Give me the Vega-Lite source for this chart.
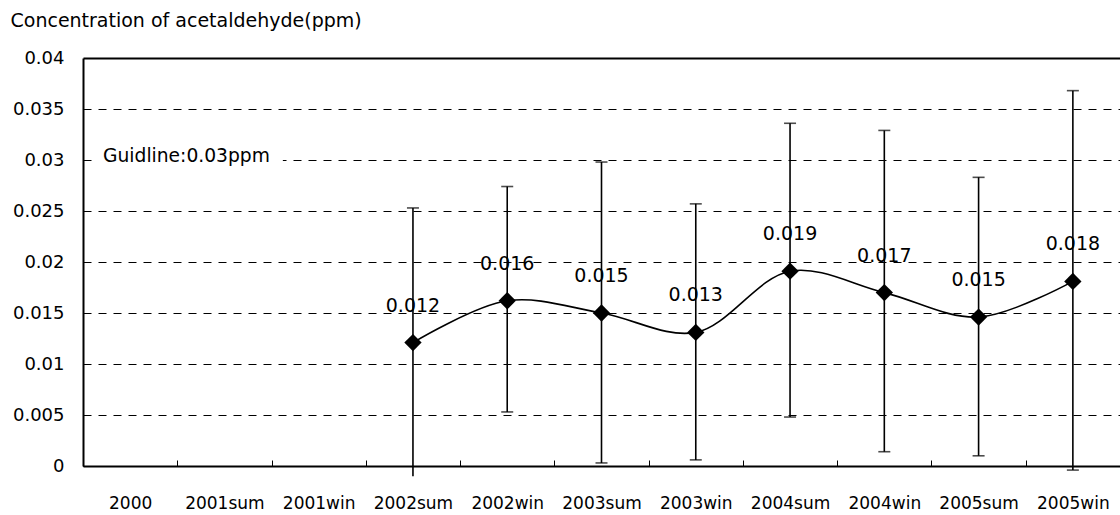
{
  "$schema": "https://vega.github.io/schema/vega-lite/v6.json",
  "width": 1037,
  "height": 408,
  "autosize": {"type": "none"},
  "padding": {"left": 83, "top": 58, "right": 0, "bottom": 49},
  "background": "white",
  "config": {
    "view": {"stroke": null},
    "font": "DejaVu Sans",
    "axis": {"labelFont": "DejaVu Sans", "titleFont": "DejaVu Sans", "labelColor": "#000", "titleColor": "#000"}
  },
  "data": {
    "values": [
      {"period": "2002sum", "mean": 0.0121, "lo": -0.001, "hi": 0.0253},
      {"period": "2002win", "mean": 0.0162, "lo": 0.0053, "hi": 0.0274},
      {"period": "2003sum", "mean": 0.0150, "lo": 0.0003, "hi": 0.0298},
      {"period": "2003win", "mean": 0.0131, "lo": 0.0006, "hi": 0.0257},
      {"period": "2004sum", "mean": 0.0191, "lo": 0.0048, "hi": 0.0336},
      {"period": "2004win", "mean": 0.0170, "lo": 0.0014, "hi": 0.0329},
      {"period": "2005sum", "mean": 0.0146, "lo": 0.0010, "hi": 0.0283},
      {"period": "2005win", "mean": 0.0181, "lo": -0.0004, "hi": 0.0368}
    ]
  },
  "encoding": {
    "x": {
      "field": "period",
      "type": "ordinal",
      "sort": null,
      "scale": {
        "domain": ["2000", "2001sum", "2001win", "2002sum", "2002win", "2003sum", "2003win", "2004sum", "2004win", "2005sum", "2005win"],
        "paddingInner": 0,
        "paddingOuter": 0
      },
      "axis": {
        "title": null,
        "labelAngle": 0,
        "labelFontSize": 17,
        "labelPadding": 35,
        "tickBand": "extent",
        "ticks": true,
        "tickSize": -6,
        "tickColor": "#000",
        "tickWidth": 1,
        "domainColor": "#000",
        "domainWidth": 2,
        "grid": false,
        "zindex": 1
      }
    }
  },
  "layer": [
    {
      "mark": {"type": "rule", "color": "#000", "strokeWidth": 1.6},
      "encoding": {
        "y": {
          "field": "lo",
          "type": "quantitative",
          "scale": {"domain": [0, 0.04], "nice": false, "zero": false, "clamp": false},
          "axis": {
            "values": [0, 0.005, 0.01, 0.015, 0.02, 0.025, 0.03, 0.035, 0.04],
            "format": "~g",
            "grid": true,
            "gridDash": {"condition": {"test": "datum.value >= 0.04", "value": []}, "value": [8, 7]},
            "gridWidth": {"condition": {"test": "datum.value >= 0.04", "value": 2}, "value": 1},
            "gridColor": "#000",
            "ticks": false,
            "domainColor": "#000",
            "domainWidth": 2,
            "labelFontSize": 18,
            "labelPadding": 19,
            "title": "Concentration of acetaldehyde(ppm)",
            "titleAngle": 0,
            "titleAlign": "left",
            "titleBaseline": "middle",
            "titleX": -73,
            "titleY": -38,
            "titleFontSize": 19,
            "titleFontWeight": "normal"
          }
        },
        "y2": {"field": "hi"}
      }
    },
    {
      "mark": {"type": "rect", "color": "white", "opacity": 1},
      "data": {"values": [{}]},
      "encoding": {
        "x": {"datum": "2000", "bandPosition": 0.1},
        "x2": {"datum": "2001win", "bandPosition": 0.12},
        "y": {"datum": 0.029, "type": "quantitative"},
        "y2": {"datum": 0.0315}
      }
    },
    {
      "mark": {"type": "text", "align": "left", "baseline": "middle", "fontSize": 18.7, "dx": 20, "color": "#000"},
      "data": {"values": [{}]},
      "encoding": {
        "x": {"datum": "2000", "bandPosition": 0},
        "y": {"datum": 0.0304, "type": "quantitative"},
        "text": {"value": "Guidline:0.03ppm"}
      }
    },
    {
      "mark": {"type": "tick", "color": "#000", "size": 12, "thickness": 1.6},
      "encoding": {
        "y": {"field": "hi", "type": "quantitative"}
      }
    },
    {
      "transform": [{"filter": "datum.period != '2002sum'"}],
      "mark": {"type": "tick", "color": "#000", "size": 12, "thickness": 1.6},
      "encoding": {
        "y": {"field": "lo", "type": "quantitative"}
      }
    },
    {
      "mark": {"type": "line", "color": "#000", "strokeWidth": 1.6, "interpolate": "catmull-rom"},
      "encoding": {
        "y": {"field": "mean", "type": "quantitative"}
      }
    },
    {
      "mark": {"type": "point", "shape": "diamond", "filled": true, "color": "#000", "size": 300, "opacity": 1},
      "encoding": {
        "y": {"field": "mean", "type": "quantitative"}
      }
    },
    {
      "mark": {"type": "text", "fontSize": 19, "dy": -37, "baseline": "middle", "align": "center", "color": "#000"},
      "encoding": {
        "y": {"field": "mean", "type": "quantitative"},
        "text": {"field": "mean", "type": "quantitative", "format": ".3f"}
      }
    }
  ]
}
